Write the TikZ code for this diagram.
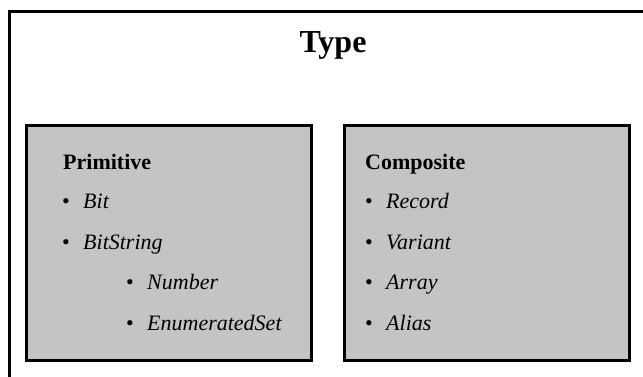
\documentclass[tikz,border=0pt]{standalone}
\usepackage{fontspec}
\setmainfont{Liberation Serif}
\begin{document}
\begin{tikzpicture}[x=1pt,y=-1pt,
  panel/.style={draw=black,line width=3pt,fill=boxgray,rectangle,inner sep=0pt,minimum width=285pt,minimum height=235pt},
  head/.style={anchor=base west,inner sep=0pt,font=\fontsize{22}{26}\selectfont\bfseries},
  itemtext/.style={anchor=base west,inner sep=0pt,font=\fontsize{22}{26}\selectfont\itshape},
  bul/.style={anchor=base west,inner sep=0pt,font=\fontsize{22}{26}\selectfont}]
\definecolor{boxgray}{RGB}{196,196,196}
\useasboundingbox (0,0) rectangle (643,376);
% outer frame (open at right and bottom)
\draw[line width=3pt] (9,390) -- (9,11) -- (660,11);
\node[anchor=base,inner sep=0pt,font=\fontsize{32}{38}\selectfont\bfseries] (title) at (333,52) {Type};
% panels
\node[panel] (prim) at (168.5,243) {};
\node[panel] (comp) at (487,243) {};
% Primitive
\node[head] (primh) at (63,169) {Primitive};
\node[bul] (b1) at (62,208) {\textbullet};
\node[itemtext] (bit) at (83,208) {Bit};
\node[bul] (b2) at (62,249) {\textbullet};
\node[itemtext] (bitstring) at (83,249) {BitString};
\node[bul] (b3) at (126,289) {\textbullet};
\node[itemtext] (number) at (147,289) {Number};
\node[bul] (b4) at (126,330) {\textbullet};
\node[itemtext] (enumset) at (147,330) {EnumeratedSet};
% Composite
\node[head] (comph) at (365,169) {Composite};
\node[bul] (c1) at (365,208) {\textbullet};
\node[itemtext] (record) at (386,208) {Record};
\node[bul] (c2) at (365,249) {\textbullet};
\node[itemtext] (variant) at (386,249) {Variant};
\node[bul] (c3) at (365,289) {\textbullet};
\node[itemtext] (array) at (386,289) {Array};
\node[bul] (c4) at (365,330) {\textbullet};
\node[itemtext] (alias) at (386,330) {Alias};
\end{tikzpicture}
\end{document}
